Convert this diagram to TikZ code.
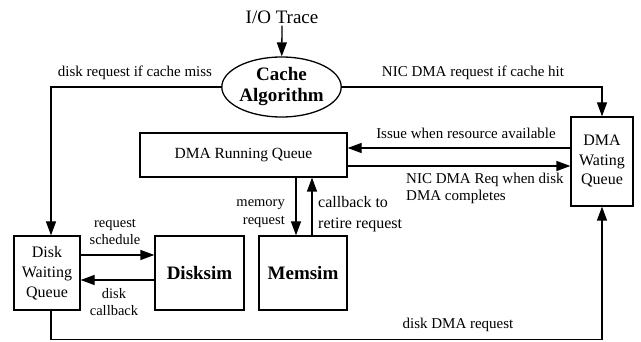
\documentclass[tikz,border=0pt]{standalone}
\usepackage{fontspec}
\setmainfont{Liberation Serif}
\usetikzlibrary{positioning,shapes.geometric,arrows.meta}

\begin{document}
\begin{tikzpicture}[x=1pt,y=-1pt,
		box/.style={draw,line width=1.3pt,inner sep=0pt,align=center},
		lbl/.style={inner sep=0pt,font=\fontsize{15}{17}\selectfont},
		arr/.style={line width=1.3pt,-{Triangle[length=14pt,width=10pt]}}]
		\useasboundingbox (0,0) rectangle (641,342);
		% blocks
		\node[inner sep=0pt,font=\fontsize{19}{22}\selectfont] (trace) at (282,17) {I/O Trace};
		\node[box,ellipse,minimum width=111pt,minimum height=60pt,font=\fontsize{19}{21}\selectfont\bfseries] (cache) at (281.5,87) {Cache\\Algorithm};
		\node[box,minimum width=62pt,minimum height=89pt,font=\fontsize{16}{19.5}\selectfont] (dmaq) at (602,161.5) {DMA\\Wating\\Queue};
		\node[box,minimum width=207pt,minimum height=44pt,font=\fontsize{15.5}{18}\selectfont] (dmarun) at (243.5,155) {DMA Running Queue};
		\node[box,minimum width=66pt,minimum height=74pt,font=\fontsize{16}{20}\selectfont] (diskq) at (47,273) {Disk\\Waiting\\Queue};
		\node[box,minimum width=89pt,minimum height=74pt,font=\fontsize{19}{22}\selectfont\bfseries] (disksim) at (199.5,273) {Disksim};
		\node[box,minimum width=88pt,minimum height=74pt,font=\fontsize{19}{22}\selectfont\bfseries] (memsim) at (303,273) {Memsim};
		% connectors
		\draw[arr] ([yshift=-2pt]trace.south) -- (cache);
		\draw[arr] (cache.west) -| ([xshift=4pt]diskq.north);
		\draw[arr] (cache.east) -| (dmaq.north);
		\draw[arr] ([yshift=7pt]dmarun.east -| dmaq.west) -- ([yshift=7pt]dmarun.east);
		\draw[arr] ([yshift=-11pt]dmarun.east) -- ([yshift=-11pt]dmarun.east -| dmaq.west);
		\draw[arr] ([xshift=-7pt]memsim.north |- dmarun.south) -- ([xshift=-7pt]memsim.north);
		\draw[arr] ([xshift=9pt]memsim.north) -- ([xshift=9pt]memsim.north |- dmarun.south);
		\draw[arr] ([yshift=18pt]diskq.east) -- ([yshift=18pt]diskq.east -| disksim.west);
		\draw[arr] ([yshift=-7pt]disksim.west) -- ([yshift=-7pt]disksim.west -| diskq.east);
		\draw[arr] ([xshift=4pt]diskq.south) |- ++(0,29) -| (dmaq.south);
		% labels
		\node[lbl] (miss) at (135,73) {disk request if cache miss};
		\node[lbl] (hit) at (473,73) {NIC DMA request if cache hit};
		\node[lbl] (issue) at (466,133) {Issue when resource available};
		\node[lbl,anchor=west,align=left] (nicreq) at (406,188.5) {NIC DMA Req when disk\\DMA completes};
		\node[lbl,anchor=east,align=right,font=\fontsize{14.5}{18}\selectfont] (memreq) at (285,213.5) {memory\\request};
		\node[lbl,anchor=west,align=left,font=\fontsize{16}{21}\selectfont] (retire) at (318,214) {callback to\\retire request};
		\node[lbl,align=center,font=\fontsize{14.5}{17.5}\selectfont] (sched) at (115,232) {request\\schedule};
		\node[lbl,align=center,font=\fontsize{14.5}{17.5}\selectfont] (dcb) at (114,302) {disk\\callback};
		\node[lbl] (diskdma) at (458,325) {disk DMA request};
	\end{tikzpicture}
\end{document}
